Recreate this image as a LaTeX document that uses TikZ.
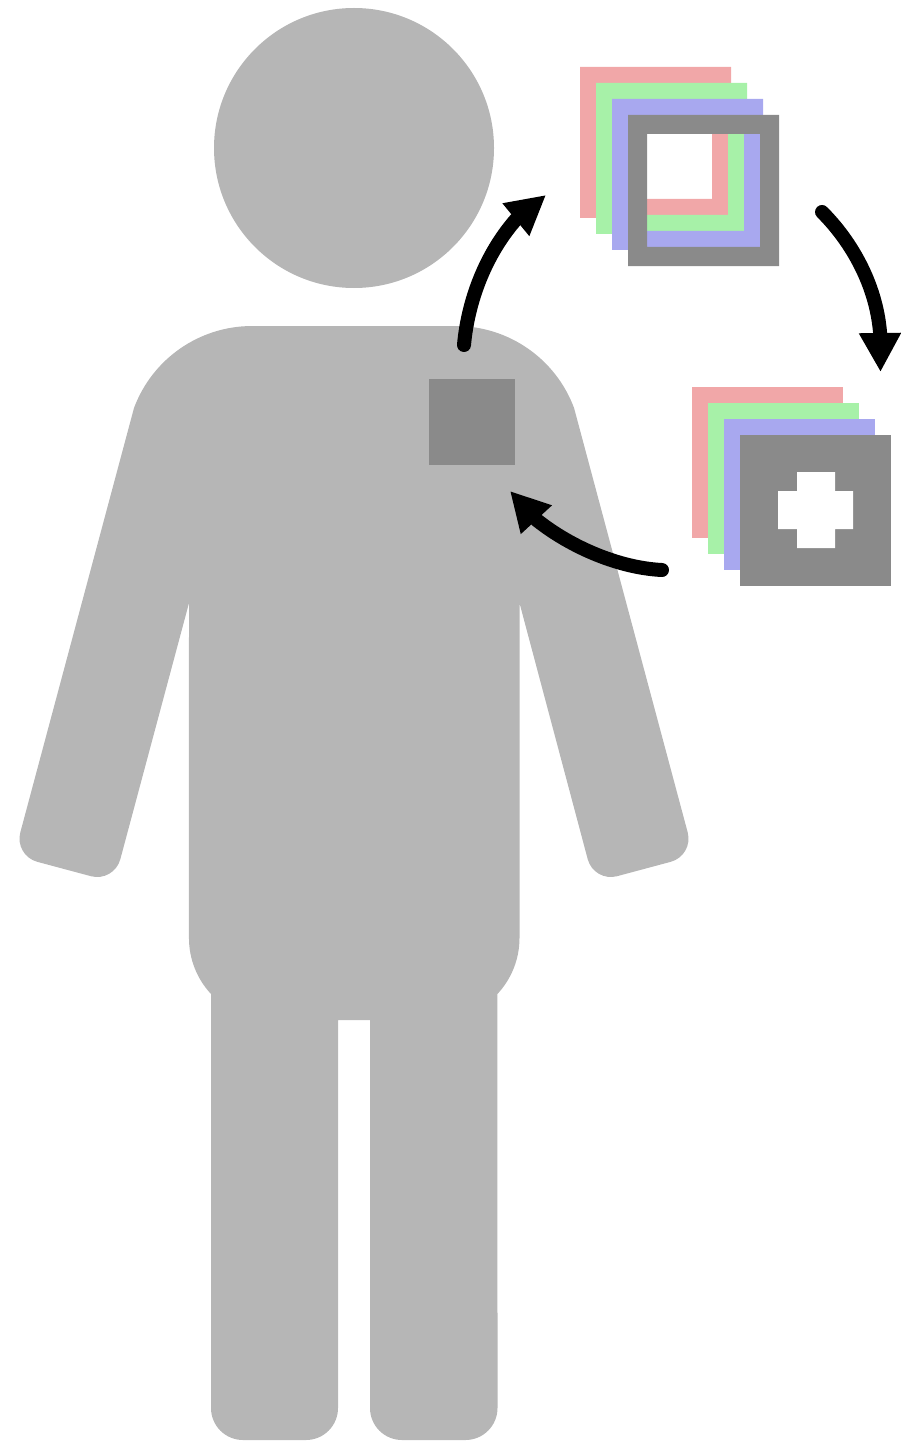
\documentclass[tikz,border=0pt]{standalone}
\usetikzlibrary{arrows.meta}
\definecolor{bodygray}{HTML}{B6B6B6}
\definecolor{darkgray}{HTML}{8A8A8A}
\definecolor{layerpink}{HTML}{F1A7A8}
\definecolor{layergreen}{HTML}{A7F1A8}
\definecolor{layerblue}{HTML}{A8A8EF}
\tikzset{
  figure/.style={fill=bodygray},
  frame/.style={even odd rule},
  cyclearrow/.style={line width=14pt,line cap=round,
    -{Triangle[length=39pt,width=39.5pt]}}
}
\begin{document}
\begin{tikzpicture}[x=1pt,y=-1pt]
\useasboundingbox (0,0) rectangle (901,1447);
% figure
\fill[figure] (354,148) circle[radius=140];
\fill[figure] (134,408) arc[start angle=200.45,end angle=270,radius=126]
  -- (456,326) arc[start angle=270,end angle=339.55,radius=126]
  [rounded corners=24] -- (693.9,855.6) -- (593.9,882.4) [sharp corners] -- (519.5,603) -- (519.5,938)
  arc[start angle=0,end angle=43,radius=82]
  [rounded corners=32] -- (497.5,1440) -- (370,1440) [sharp corners] -- (370,1020) -- (338,1020)
  [rounded corners=32] -- (338,1440) -- (211,1440) [sharp corners] -- (211,994)
  arc[start angle=137,end angle=180,radius=82]
  -- (189,603) [rounded corners=24] -- (114.1,882.4) -- (14.1,855.6) [sharp corners] -- cycle;
\fill[darkgray] (429,379) rectangle (515,465);
% first stack
\fill[layerpink,frame]  (580,67) rectangle (731,218) (599,86) rectangle (712,199);
\fill[layergreen,frame] (596,83) rectangle (747,234) (615,102) rectangle (728,215);
\fill[layerblue,frame]  (612,99) rectangle (763,250) (631,118) rectangle (744,231);
\fill[darkgray,frame]   (628,115) rectangle (779,266) (647,134) rectangle (760,247);
% second stack
\fill[layerpink]  (692,387) rectangle (843,538);
\fill[layergreen] (708,403) rectangle (859,554);
\fill[layerblue]  (724,419) rectangle (875,570);
\fill[darkgray]   (740,435) rectangle (891,586);
\fill[white] (797,472) -- (835,472) -- (835,491) -- (853,491) -- (853,529) -- (835,529)
  -- (835,548) -- (797,548) -- (797,529) -- (778,529) -- (778,491) -- (797,491) -- cycle;
% arrows
\coordinate (a1s) at (464,345);
\coordinate (a1b) at (515.5,220);
\coordinate (a1e) at (546,195);
\coordinate (a2s) at (822,212);
\coordinate (a2b) at (880,332);
\coordinate (a2e) at (880.5,372);
\coordinate (a3s) at (662,570);
\coordinate (a3b) at (536.7,520);
\coordinate (a3e) at (510,491);
\draw[cyclearrow] (a1s) .. controls (468,300) and (486,254) .. (a1b) -- (a1e);
\draw[cyclearrow] (a2s) .. controls (852,242) and (876,285) .. (a2b) -- (a2e);
\draw[cyclearrow] (a3s) .. controls (620,568) and (572,548) .. (a3b) -- (a3e);
\end{tikzpicture}
\end{document}
